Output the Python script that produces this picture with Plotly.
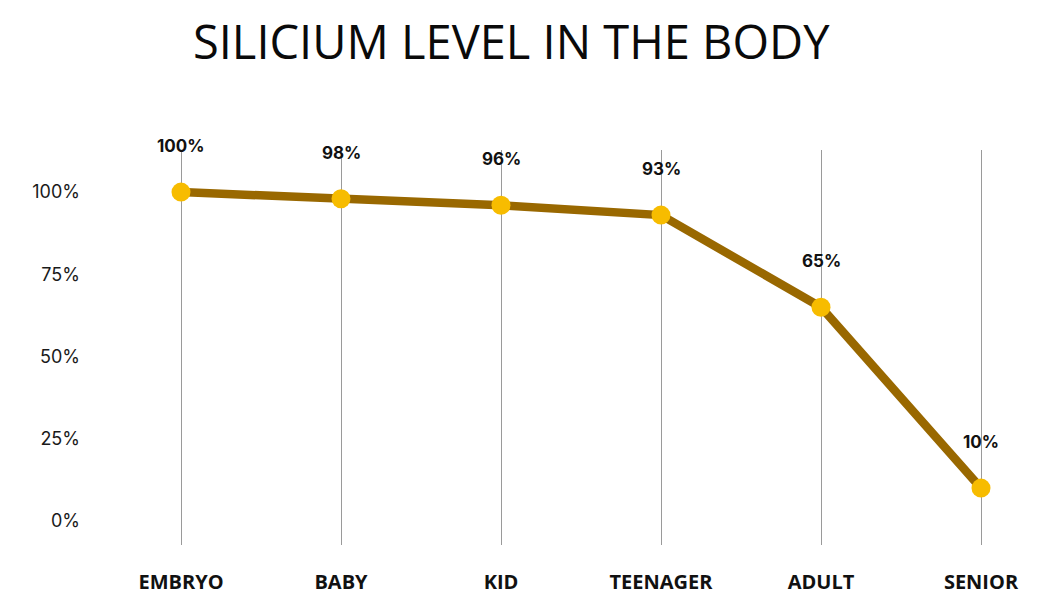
import plotly.graph_objects as go

categories = ["EMBRYO", "BABY", "KID", "TEENAGER", "ADULT", "SENIOR"]
values = [100, 98, 96, 93, 65, 10]
labels = ["100%", "98%", "96%", "93%", "65%", "10%"]
y_ticks = [0, 25, 50, 75, 100]
y_tick_text = ["0%", "25%", "50%", "75%", "100%"]

x_idx = list(range(len(categories)))

fig = go.Figure()
fig.add_trace(go.Scatter(
    x=x_idx, y=values, mode="lines+markers",
    line=dict(color="#996800", width=8.5),
    marker=dict(color="#F7BC00", size=19, line=dict(width=0)),
    hoverinfo="skip",
))

for xi, v, t in zip(x_idx, values, labels):
    fig.add_annotation(x=xi, y=v, text=t, showarrow=False, yshift=46,
                       font=dict(family="Inter, sans-serif", size=17, color="#111111", weight="bold"))

fig.update_layout(
    width=1054, height=614,
    paper_bgcolor="white", plot_bgcolor="white",
    margin=dict(l=109, r=9, t=150, b=69),
    showlegend=False,
    title=dict(text="SILICIUM LEVEL IN THE BODY", x=0.485, xanchor="center", y=0.93, yanchor="middle",
               font=dict(family="Open Sans", size=47, color="#0a0a0a", weight=500)),
)
fig.update_xaxes(
    range=[-0.45, 5.4], tickmode="array", tickvals=x_idx, ticktext=categories,
    showgrid=True, gridcolor="#9a9a9a", gridwidth=1, zeroline=False, showline=False,
    ticks="", ticklabelstandoff=23,
    tickfont=dict(family="Open Sans", size=20, color="#111111", weight="bold"),
)
fig.update_yaxes(
    range=[-7.3, 112.8], tickmode="array", tickvals=y_ticks, ticktext=y_tick_text,
    showgrid=False, zeroline=False, showline=False, ticks="", ticklabelstandoff=28,
    tickfont=dict(family="Inter, sans-serif", size=18, color="#1a1a1a"),
)

fig.write_html("out.html")
